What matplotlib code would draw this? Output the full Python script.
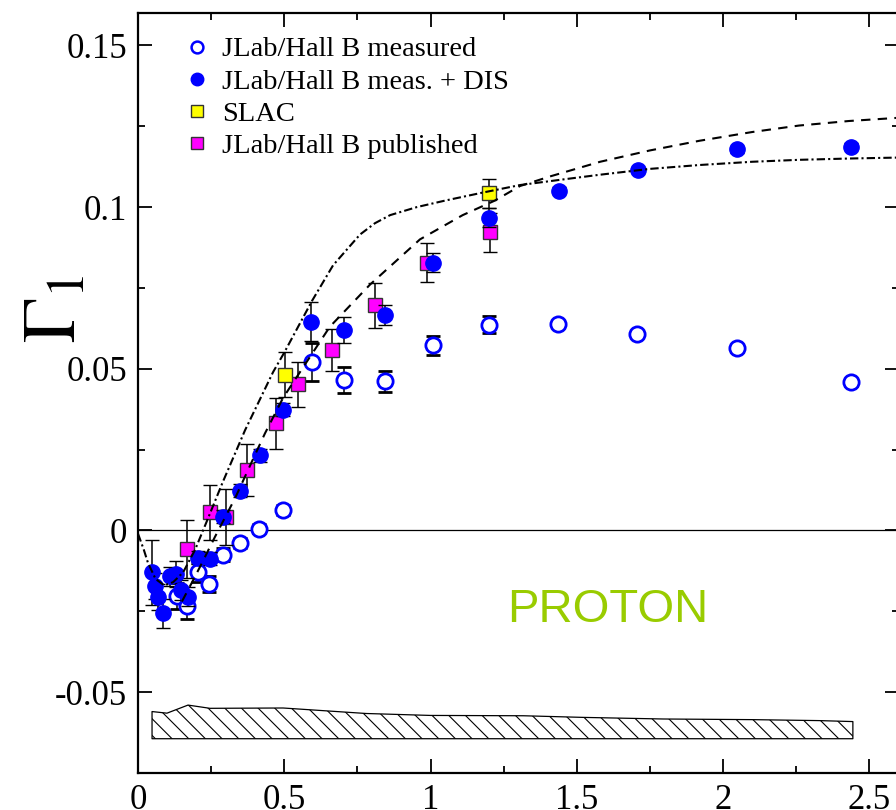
import numpy as np
import matplotlib
matplotlib.use("Agg")
import matplotlib.pyplot as plt
from matplotlib.lines import Line2D

plt.rcParams['font.family'] = ['Liberation Serif', 'DejaVu Serif']
plt.rcParams['mathtext.fontset'] = 'stix'
plt.rcParams['hatch.linewidth'] = 0.8

# JLab/Hall B measured (open circles)
q2_meas = [0.133, 0.168, 0.205, 0.243, 0.291, 0.349, 0.414, 0.496, 0.595, 0.704,
           0.844, 1.009, 1.200, 1.436, 1.706, 2.048, 2.438]
g1_meas = [-0.0202, -0.0235, -0.0130, -0.0166, -0.0075, -0.0039, 0.0006, 0.0063, 0.0521, 0.0464,
           0.0461, 0.0572, 0.0636, 0.0639, 0.0608, 0.0563, 0.0458]
err_meas = [0.004, 0.004, 0.003, 0.0025, 0.002, 0.0015, 0.0015, 0.0015, 0.006, 0.004,
            0.0032, 0.0029, 0.0027, 0.001, 0.001, 0.001, 0.001]

# JLab/Hall B measured + DIS (filled circles)
q2_dis = [0.048, 0.058, 0.068, 0.085, 0.109, 0.130, 0.147, 0.171, 0.205, 0.246, 0.291, 0.349,
          0.417, 0.496, 0.591, 0.704, 0.844, 1.009, 1.200, 1.439, 1.709, 2.048, 2.438]
g1_dis = [-0.0130, -0.0172, -0.0205, -0.0256, -0.0142, -0.0136, -0.0184, -0.0205, -0.0084, -0.0087,
          0.0042, 0.0123, 0.0232, 0.0373, 0.0645, 0.0620, 0.0666, 0.0828, 0.0967, 0.1051, 0.1114,
          0.1178, 0.1187]
err_dis = [0.010, 0.004, 0.004, 0.0045, 0.003, 0.004, 0.003, 0.003, 0.002, 0.002, 0.002, 0.002,
           0.002, 0.002, 0.006, 0.004, 0.0032, 0.003, 0.003, 0.001, 0.001, 0.001, 0.001]

# SLAC
q2_slac = [0.503, 1.200]
g1_slac = [0.0482, 0.1042]
err_slac = [0.007, 0.0045]

# JLab/Hall B published
q2_pub = [0.168, 0.246, 0.301, 0.373, 0.472, 0.547, 0.663, 0.810, 0.988, 1.203]
g1_pub = [-0.0057, 0.0057, 0.0042, 0.0187, 0.0331, 0.0452, 0.0557, 0.0696, 0.0828, 0.0922]
err_pub = [0.009, 0.0085, 0.0087, 0.008, 0.008, 0.007, 0.0065, 0.007, 0.006, 0.006]

# model curves
q2_dd = [0.0, 0.02, 0.034, 0.06, 0.09, 0.12, 0.154, 0.195, 0.236, 0.29, 0.366, 0.462, 0.5,
         0.595, 0.667, 0.759, 0.81, 0.862, 0.954, 1.05, 1.18, 1.306, 1.45, 1.58, 1.75, 1.92,
         2.1, 2.26, 2.43, 2.6]
g1_dd = [-0.001, -0.006, -0.010, -0.015, -0.017, -0.016, -0.013, -0.006, 0.003, 0.015, 0.031,
         0.049, 0.055, 0.071, 0.082, 0.0915, 0.095, 0.0975, 0.1000, 0.1020, 0.1045, 0.1068,
         0.1085, 0.1100, 0.1118, 0.1130, 0.1140, 0.1146, 0.1150, 0.1153]
q2_da = [0.15, 0.185, 0.219, 0.263, 0.332, 0.393, 0.434, 0.496, 0.554, 0.656, 0.793, 0.964,
         1.11, 1.22, 1.306, 1.41, 1.58, 1.75, 1.92, 2.1, 2.26, 2.43, 2.6]
g1_da = [-0.022, -0.016, -0.010, -0.002, 0.010, 0.022, 0.030, 0.041, 0.049, 0.063, 0.076, 0.090,
         0.0975, 0.102, 0.1065, 0.1095, 0.1140, 0.1175, 0.1205, 0.1232, 0.1252, 0.1266, 0.1276]

# systematic error band
q2_sys = [0.048, 0.099, 0.171, 0.246, 0.496, 0.78, 1.0, 1.318, 1.52, 1.795, 2.1, 2.33, 2.444]
sys_top = [-0.0560, -0.0565, -0.0540, -0.0550, -0.0549, -0.0566, -0.0572, -0.0573, -0.0578,
           -0.0583, -0.0585, -0.0588, -0.0591]
sys_bottom = -0.0644

fig = plt.figure(figsize=(8.96, 8.10), dpi=100)
ax = fig.add_axes([138 / 896, 37 / 810, 760.5 / 896, 760 / 810])

ax.axhline(0, color='black', lw=0.9, zorder=1)
ax.fill_between(q2_sys, sys_top, sys_bottom, facecolor='white', edgecolor='black',
                hatch='\\\\', lw=0.9, zorder=1)

eb = dict(ls='none', ecolor='black', elinewidth=1.1, capsize=5, capthick=1.1)
ax.errorbar(q2_meas, g1_meas, yerr=err_meas, fmt='o', ms=11, mfc='white', mec='blue',
            mew=2, zorder=3, **eb)
ax.errorbar(q2_pub, g1_pub, yerr=err_pub, fmt='s', ms=10.5, mfc='magenta', mec='#333333',
            mew=1, zorder=4, **eb)
ax.errorbar(q2_slac, g1_slac, yerr=err_slac, fmt='s', ms=10.5, mfc='yellow', mec='#333333',
            mew=1, zorder=4, **eb)
ax.errorbar(q2_dis, g1_dis, yerr=err_dis, fmt='o', ms=11, mfc='blue', mec='blue',
            mew=1, zorder=5, **eb)

ax.plot(q2_dd, g1_dd, color='black', lw=1.5, ls=(0, (4, 1.5, 1, 1.5)), zorder=6)
ax.plot(q2_da, g1_da, color='black', lw=1.5, ls=(0, (4.5, 3.5)), zorder=6)

ax.text(1.607, -0.0247, 'PROTON', color='#99cc00', fontsize=34,
        family=['Liberation Sans', 'DejaVu Sans'], ha='center', va='center')

ax.set_xlim(0, 2.6)
ax.set_ylim(-0.07, 0.16)
ax.set_xticks([0, 0.5, 1, 1.5, 2, 2.5])
ax.set_xticklabels(['0', '0.5', '1', '1.5', '2', '2.5'])
ax.set_xticks(np.arange(0.25, 2.6, 0.5), minor=True)
ax.set_yticks([-0.05, 0, 0.05, 0.1, 0.15])
ax.set_yticklabels(['-0.05', '0', '0.05', '0.1', '0.15'])
ax.set_yticks(np.arange(-0.075, 0.16, 0.05), minor=True)
ax.tick_params(which='both', direction='in', top=True, right=True, width=1.3,
               labelsize=25, pad=8)
ax.tick_params(which='major', length=10)
ax.tick_params(which='minor', length=5)
for s in ax.spines.values():
    s.set_linewidth(1.6)

ax.set_ylabel(r'$\Gamma_1$', fontsize=54)
ax.yaxis.set_label_coords(-0.062, 0.61)

handles = [
    Line2D([], [], ls='none', marker='o', ms=8.5, mfc='white', mec='blue', mew=1.8),
    Line2D([], [], ls='none', marker='o', ms=9, mfc='blue', mec='blue'),
    Line2D([], [], ls='none', marker='s', ms=8.5, mfc='yellow', mec='#333333', mew=1),
    Line2D([], [], ls='none', marker='s', ms=8.5, mfc='magenta', mec='#333333', mew=1),
]
labels = ['JLab/Hall B measured', 'JLab/Hall B meas. + DIS', 'SLAC', 'JLab/Hall B published']
ax.legend(handles, labels, loc='upper left', bbox_to_anchor=(0.047, 0.984), frameon=False,
          fontsize=20.5, handlelength=0.8, handletextpad=0.5, labelspacing=0.22,
          borderaxespad=0)

fig.savefig('out.png', dpi=100)
